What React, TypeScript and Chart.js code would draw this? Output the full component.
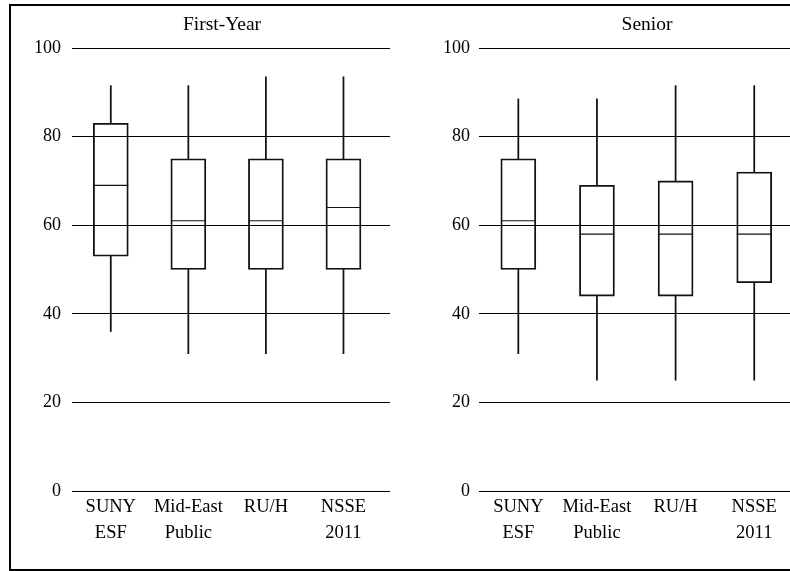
import React, { useEffect, useRef } from 'react';
import { Chart, registerables } from 'chart.js';

Chart.register(...registerables);

const categories: string[][] = [['SUNY', 'ESF'], ['Mid-East', 'Public'], ['RU/H'], ['NSSE', '2011']];
const yTicks = [0, 20, 40, 60, 80, 100];

const firstYearMin = [36, 31, 31, 31];
const firstYearQ1 = [53, 50, 50, 50];
const firstYearMedian = [69, 61, 61, 64];
const firstYearQ3 = [83, 75, 75, 75];
const firstYearMax = [91.5, 91.5, 93.5, 93.5];

const seniorMin = [31, 25, 25, 25];
const seniorQ1 = [50, 44, 44, 47];
const seniorMedian = [61, 58, 58, 58];
const seniorQ3 = [75, 69, 70, 72];
const seniorMax = [88.5, 88.5, 91.5, 91.5];

const FONT = "'Liberation Serif', 'Times New Roman', serif";

interface PanelProps {
  title: string;
  mins: number[];
  q1s: number[];
  meds: number[];
  q3s: number[];
  maxs: number[];
  left: number;
  width: number;
  yWidth: number;
  rightWidth: number;
  tickPad: number;
  xMax: number;
}

function Panel(props: PanelProps) {
  const ref = useRef<HTMLCanvasElement | null>(null);
  useEffect(() => {
    if (!ref.current) return;
    const idx = categories.map((_, i) => i);
    const { mins, q1s, meds, q3s, maxs } = props;
    const chart = new Chart(ref.current, {
      type: 'bar',
      data: {
        datasets: [
          {
            type: 'bar',
            data: idx.map((i) => ({ x: i, y: [q1s[i], q3s[i]] })) as any,
            backgroundColor: 'rgba(0,0,0,0)',
            borderColor: '#111',
            borderWidth: 1.2,
            borderSkipped: false,
            barThickness: 35,
            grouped: false,
          } as any,
          {
            type: 'bar',
            data: idx.map((i) => ({ x: i, y: [q3s[i], maxs[i]] })) as any,
            backgroundColor: '#111',
            borderWidth: 0,
            barThickness: 1.1,
            grouped: false,
          } as any,
          {
            type: 'bar',
            data: idx.map((i) => ({ x: i, y: [mins[i], q1s[i]] })) as any,
            backgroundColor: '#111',
            borderWidth: 0,
            barThickness: 1.1,
            grouped: false,
          } as any,
          {
            type: 'line',
            data: idx.map((i) => ({ x: i, y: meds[i] })) as any,
            showLine: false,
            pointStyle: 'line',
            pointRadius: 17.5,
            pointHoverRadius: 17.5,
            pointBorderWidth: 1.2,
            pointBorderColor: '#111',
            borderColor: '#111',
          } as any,
        ],
      },
      options: {
        animation: false,
        responsive: true,
        maintainAspectRatio: false,
        events: [],
        layout: { padding: 0 },
        plugins: {
          legend: { display: false },
          tooltip: { enabled: false },
          title: {
            display: true,
            text: props.title,
            color: '#000',
            font: { family: FONT, size: 19.5, weight: 'normal' },
            padding: { top: 7.3, bottom: 11.3 },
          },
        },
        scales: {
          x: {
            type: 'linear',
            min: -0.5,
            max: props.xMax,
            offset: false,
            grid: { display: false, drawTicks: false },
            border: { display: false },
            afterBuildTicks: (scale: any) => {
              scale.ticks = idx.map((v) => ({ value: v }));
            },
            afterFit: (scale: any) => {
              scale.height = 60;
            },
            ticks: {
              autoSkip: false,
              maxRotation: 0,
              minRotation: 0,
              padding: 3.5,
              color: '#000',
              font: { family: FONT, size: 18.5, lineHeight: 1.405 },
              callback: (v: any) => categories[Math.round(Number(v))] ?? '',
            },
          },
          y: {
            type: 'linear',
            min: 0,
            max: 100,
            grid: { color: '#000', lineWidth: 1, drawTicks: false },
            border: { display: false },
            afterBuildTicks: (scale: any) => {
              scale.ticks = yTicks.map((v) => ({ value: v }));
            },
            afterFit: (scale: any) => {
              scale.width = props.yWidth;
            },
            ticks: {
              padding: props.tickPad,
              color: '#000',
              font: { family: FONT, size: 18 },
            },
          },
          yRight: {
            type: 'linear',
            position: 'right',
            display: true,
            grid: { display: false, drawOnChartArea: false, drawTicks: false },
            border: { display: false },
            ticks: { display: false },
            afterFit: (scale: any) => {
              scale.width = props.rightWidth;
            },
          },
        },
      } as any,
    });
    return () => chart.destroy();
  }, []);

  return (
    <div style={{ position: 'absolute', left: props.left, top: 6, width: props.width, height: 545 }}>
      <canvas ref={ref} />
    </div>
  );
}

export default function App() {
  return (
    <div
      style={{
        position: 'absolute',
        left: 0,
        top: 0,
        width: 790,
        height: 571,
        overflow: 'hidden',
        background: '#fff',
      }}
    >
      <div
        style={{
          position: 'absolute',
          left: 9,
          top: 4,
          width: 900,
          height: 567,
          boxSizing: 'border-box',
          border: '2px solid #000',
        }}
      />
      <Panel
        title="First-Year"
        mins={firstYearMin}
        q1s={firstYearQ1}
        meds={firstYearMedian}
        q3s={firstYearQ3}
        maxs={firstYearMax}
        left={31}
        width={382}
        yWidth={41}
        rightWidth={23}
        tickPad={11}
        xMax={3.6}
      />
      <Panel
        title="Senior"
        mins={seniorMin}
        q1s={seniorQ1}
        meds={seniorMedian}
        q3s={seniorQ3}
        maxs={seniorMax}
        left={438}
        width={418}
        yWidth={41}
        rightWidth={31}
        tickPad={9}
        xMax={3.9}
      />
    </div>
  );
}
